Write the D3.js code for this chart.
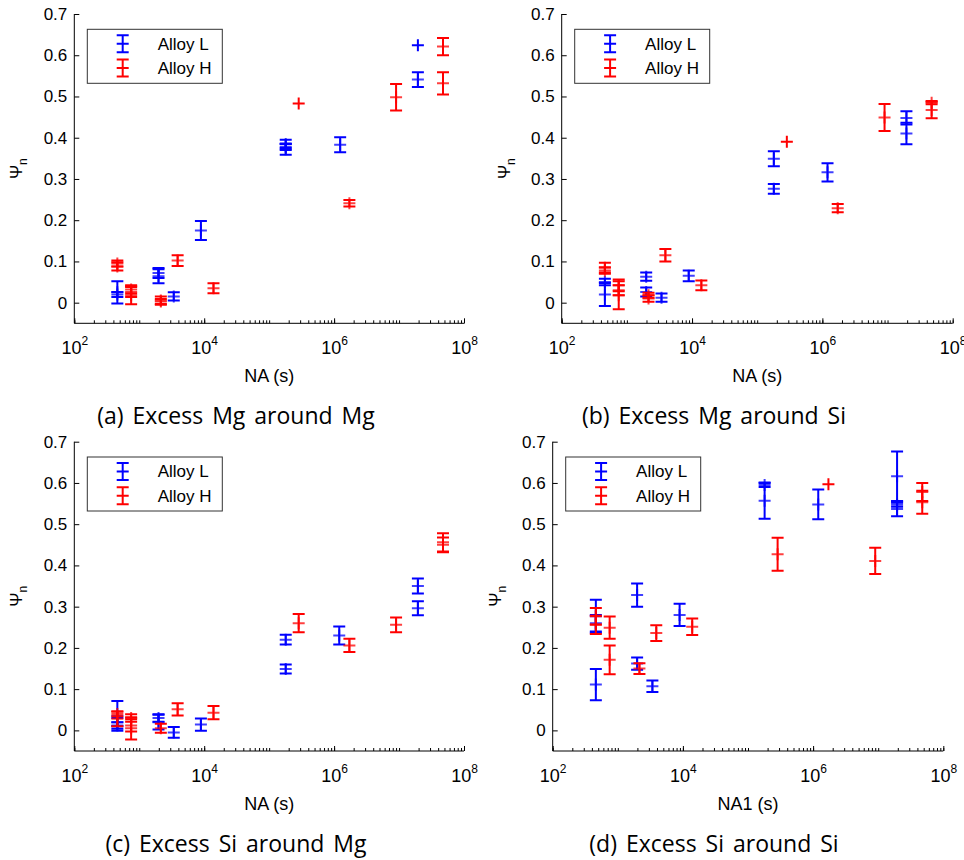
<!DOCTYPE html>
<html><head><meta charset="utf-8">
<script src="https://cdn.jsdelivr.net/npm/d3@7"></script>
<style>body{margin:0;background:#fff}svg{display:block}</style>
</head><body><svg id="chart" width="964" height="860"></svg>
<script>
// ---------- data ----------
const seriesNames = ["Alloy L", "Alloy H"];
const seriesColors = ["#0000ff", "#ff0000"];
const yTickValues = [0, 0.1, 0.2, 0.3, 0.4, 0.5, 0.6, 0.7];
const xMajorTicks = [1e2, 1e4, 1e6, 1e8];
const xLabels = ["NA (s)", "NA (s)", "NA (s)", "NA1 (s)"];
const captions = ["(a) Excess Mg around Mg", "(b) Excess Mg around Si", "(c) Excess Si around Mg", "(d) Excess Si around Si"];

// [ageing time (s), value, error]
const aL = [[460,0.025,0.027],[460,0.02,0.006],[1980,0.072,0.012],[1980,0.064,0.017],[3400,0.015,0.01],[8900,0.175,0.023],
  [1.8e5,0.385,0.01],[1.8e5,0.378,0.008],[1.8e5,0.372,0.013],[1.24e6,0.383,0.018],[1.95e7,0.624,0],[1.95e7,0.541,0.018]];
const aH = [[460,0.095,0.007],[460,0.088,0.01],[750,0.032,0.01],[750,0.026,0.012],[750,0.018,0.022],[2150,0.005,0.01],[2150,0.003,0.006],
  [3900,0.102,0.013],[13900,0.035,0.012],[2.85e5,0.483,0],[1.72e6,0.241,0.008],[9e6,0.498,0.032],[4.75e7,0.621,0.021],[4.75e7,0.532,0.027]];

const bL = [[460,0.05,0.008],[460,0.02,0.028],[1980,0.063,0.01],[1980,0.026,0.011],[3400,0.012,0.01],[8900,0.065,0.013],
  [1.8e5,0.349,0.018],[1.8e5,0.276,0.012],[1.2e6,0.316,0.022],[1.95e7,0.448,0.016],[1.95e7,0.41,0.026]];
const bH = [[460,0.085,0.012],[460,0.078,0.008],[750,0.042,0.014],[750,0.03,0.012],[750,0.018,0.034],[2150,0.018,0.006],[2150,0.01,0.008],
  [3900,0.115,0.015],[13900,0.042,0.012],[2.85e5,0.39,0],[1.72e6,0.229,0.01],[9e6,0.449,0.033],[4.75e7,0.467,0.02],[4.75e7,0.485,0.004]];

const cL = [[460,0.035,0.036],[460,0.02,0.01],[460,0.012,0.008],[1980,0.03,0.009],[1980,0.02,0.018],[3400,-0.005,0.013],[8900,0.014,0.015],
  [1.8e5,0.22,0.012],[1.8e5,0.149,0.011],[1.2e6,0.23,0.022],[1.95e7,0.35,0.018],[1.95e7,0.296,0.017]];
const cH = [[460,0.04,0.006],[460,0.028,0.018],[750,0.03,0.009],[750,0.012,0.015],[750,0.005,0.027],[2150,0.005,0.011],
  [3900,0.051,0.015],[13900,0.043,0.016],[2.85e5,0.26,0.022],[1.72e6,0.206,0.016],[9e6,0.256,0.018],[4.75e7,0.456,0.022],[4.75e7,0.45,0.018]];

const dL = [[460,0.277,0.04],[460,0.26,0.02],[460,0.111,0.038],[1980,0.328,0.028],[1980,0.162,0.015],[3400,0.107,0.014],[8900,0.28,0.027],
  [1.8e5,0.557,0.044],[1.8e5,0.595,0.005],[1.2e6,0.548,0.036],[1.95e7,0.616,0.06],[1.95e7,0.547,0.005],[1.95e7,0.537,0.018]];
const dH = [[460,0.277,0.02],[460,0.256,0.022],[750,0.249,0.027],[750,0.171,0.035],[2150,0.15,0.013],[3900,0.236,0.019],[13900,0.251,0.02],
  [2.85e5,0.427,0.04],[1.72e6,0.597,0],[9e6,0.411,0.032],[4.75e7,0.578,0.022],[4.75e7,0.553,0.028]];

const panelData = [[aL, aH], [bL, bH], [cL, cH], [dL, dH]];

// ---------- layout ----------
const panels = [
  {left: 74.3, right: 464, top: 14, bottom: 323.3, capX: 236, capY: 424},
  {left: 561.7, right: 952.7, top: 14, bottom: 323.3, capX: 714, capY: 424},
  {left: 74.3, right: 464, top: 441.7, bottom: 751, capX: 236, capY: 851.7},
  {left: 552.7, right: 943.3, top: 441.7, bottom: 751, capX: 714, capY: 851.7}
];
const tickFont = "'Liberation Sans', Arial, sans-serif";
const svg = d3.select("#chart");

panels.forEach((p, i) => {
  const x = d3.scaleLog().domain([1e2, 1e8]).range([p.left, p.right]);
  const y = d3.scaleLinear().domain([-0.05, 0.7]).range([p.bottom, p.top]);
  const g = svg.append("g");

  // y axis
  const gy = g.append("g").attr("transform", `translate(${p.left},0)`)
    .call(d3.axisLeft(y).tickValues(yTickValues).tickSizeInner(-5).tickSizeOuter(0).tickPadding(7)
      .tickFormat(d => d === 0 ? "0" : d3.format(".1f")(d)));
  gy.select(".domain").attr("stroke", "#000").attr("d", `M0,${p.bottom}V${p.top}`);
  gy.selectAll("text").attr("font-family", tickFont).attr("font-size", 17).attr("fill", "#000");

  // x axis minor ticks
  const minors = [];
  for (let k = 2; k < 8; k++) for (let m = 1; m < 10; m++) minors.push(m * Math.pow(10, k));
  minors.push(1e8);
  const gxm = g.append("g").attr("transform", `translate(0,${p.bottom})`)
    .call(d3.axisBottom(x).tickValues(minors).tickSizeInner(-3).tickSizeOuter(0).tickFormat(""));
  gxm.select(".domain").attr("stroke", "#000").attr("d", `M${p.left},0H${p.right}`);
  // x major
  const gx = g.append("g").attr("transform", `translate(0,${p.bottom})`)
    .call(d3.axisBottom(x).tickValues(xMajorTicks).tickSizeInner(-5).tickSizeOuter(0).tickFormat(""));
  gx.select(".domain").remove();
  gx.selectAll(".tick text").remove();
  gx.selectAll(".tick").append("text")
    .attr("y", 31).attr("x", 0).attr("text-anchor", "middle")
    .attr("font-family", tickFont).attr("font-size", 18).attr("fill", "#000")
    .each(function(d) {
      const t = d3.select(this);
      t.append("tspan").text("10");
      t.append("tspan").attr("dy", -9).attr("font-size", 12).text(Math.round(Math.log10(d)));
    });

  // axis title
  g.append("text").attr("x", (p.left + p.right) / 2).attr("y", p.bottom + 59)
    .attr("text-anchor", "middle").attr("font-family", tickFont).attr("font-size", 18).text(xLabels[i]);

  const yl = g.append("text").attr("transform", `translate(${p.left - 52},${(p.top + p.bottom) / 2}) rotate(-90)`)
    .attr("text-anchor", "middle").attr("font-family", tickFont).attr("font-size", 17);
  yl.append("tspan").text("Ψ");
  yl.append("tspan").attr("dy", 5).attr("font-size", 12).text("n");

  // caption
  g.append("text").attr("x", p.capX).attr("y", p.capY).attr("text-anchor", "middle")
    .attr("font-family", "'Open Sans', 'Noto Sans', sans-serif").attr("font-size", 23)
    .attr("word-spacing", 3).text(captions[i]);

  // error bars
  const cap = 6, mk = 6;
  panelData[i].forEach((series, s) => {
    const gs = g.append("g").attr("stroke", seriesColors[s]).attr("stroke-width", 2).attr("fill", "none");
    series.forEach(([t, v, e]) => {
      const cx = x(t), y0 = y(v - e), y1 = y(v + e), yc = y(v);
      if (e > 0) {
        gs.append("path").attr("d",
          `M${cx},${y0}V${y1}M${cx - cap},${y0}H${cx + cap}M${cx - cap},${y1}H${cx + cap}`);
      }
      gs.append("path").attr("stroke-opacity", e > 0 ? 0.75 : 1).attr("d",
        `M${cx - mk},${yc}H${cx + mk}M${cx},${yc - mk}V${yc + mk}`);
    });
  });

  // legend
  const lx = p.left + 13, ly = p.top + 15.3;
  const lg = g.append("g");
  lg.append("rect").attr("x", lx).attr("y", ly).attr("width", 135).attr("height", 54)
    .attr("fill", "#fff").attr("stroke", "#333").attr("stroke-width", 1);
  seriesNames.forEach((name, s) => {
    const cy = ly + 14.4 + s * 24.3, sx = lx + 35.4;
    lg.append("path").attr("stroke", seriesColors[s]).attr("stroke-width", 2).attr("fill", "none")
      .attr("d", `M${sx},${cy - 8.5}V${cy + 8.5}M${sx - 6},${cy - 8.5}H${sx + 6}M${sx - 6},${cy + 8.5}H${sx + 6}M${sx - 6},${cy}H${sx + 6}`);
    lg.append("text").attr("x", lx + 70.4).attr("y", cy).attr("dy", "0.35em")
      .attr("font-family", tickFont).attr("font-size", 17).text(name);
  });
});
</script>
</body></html>
